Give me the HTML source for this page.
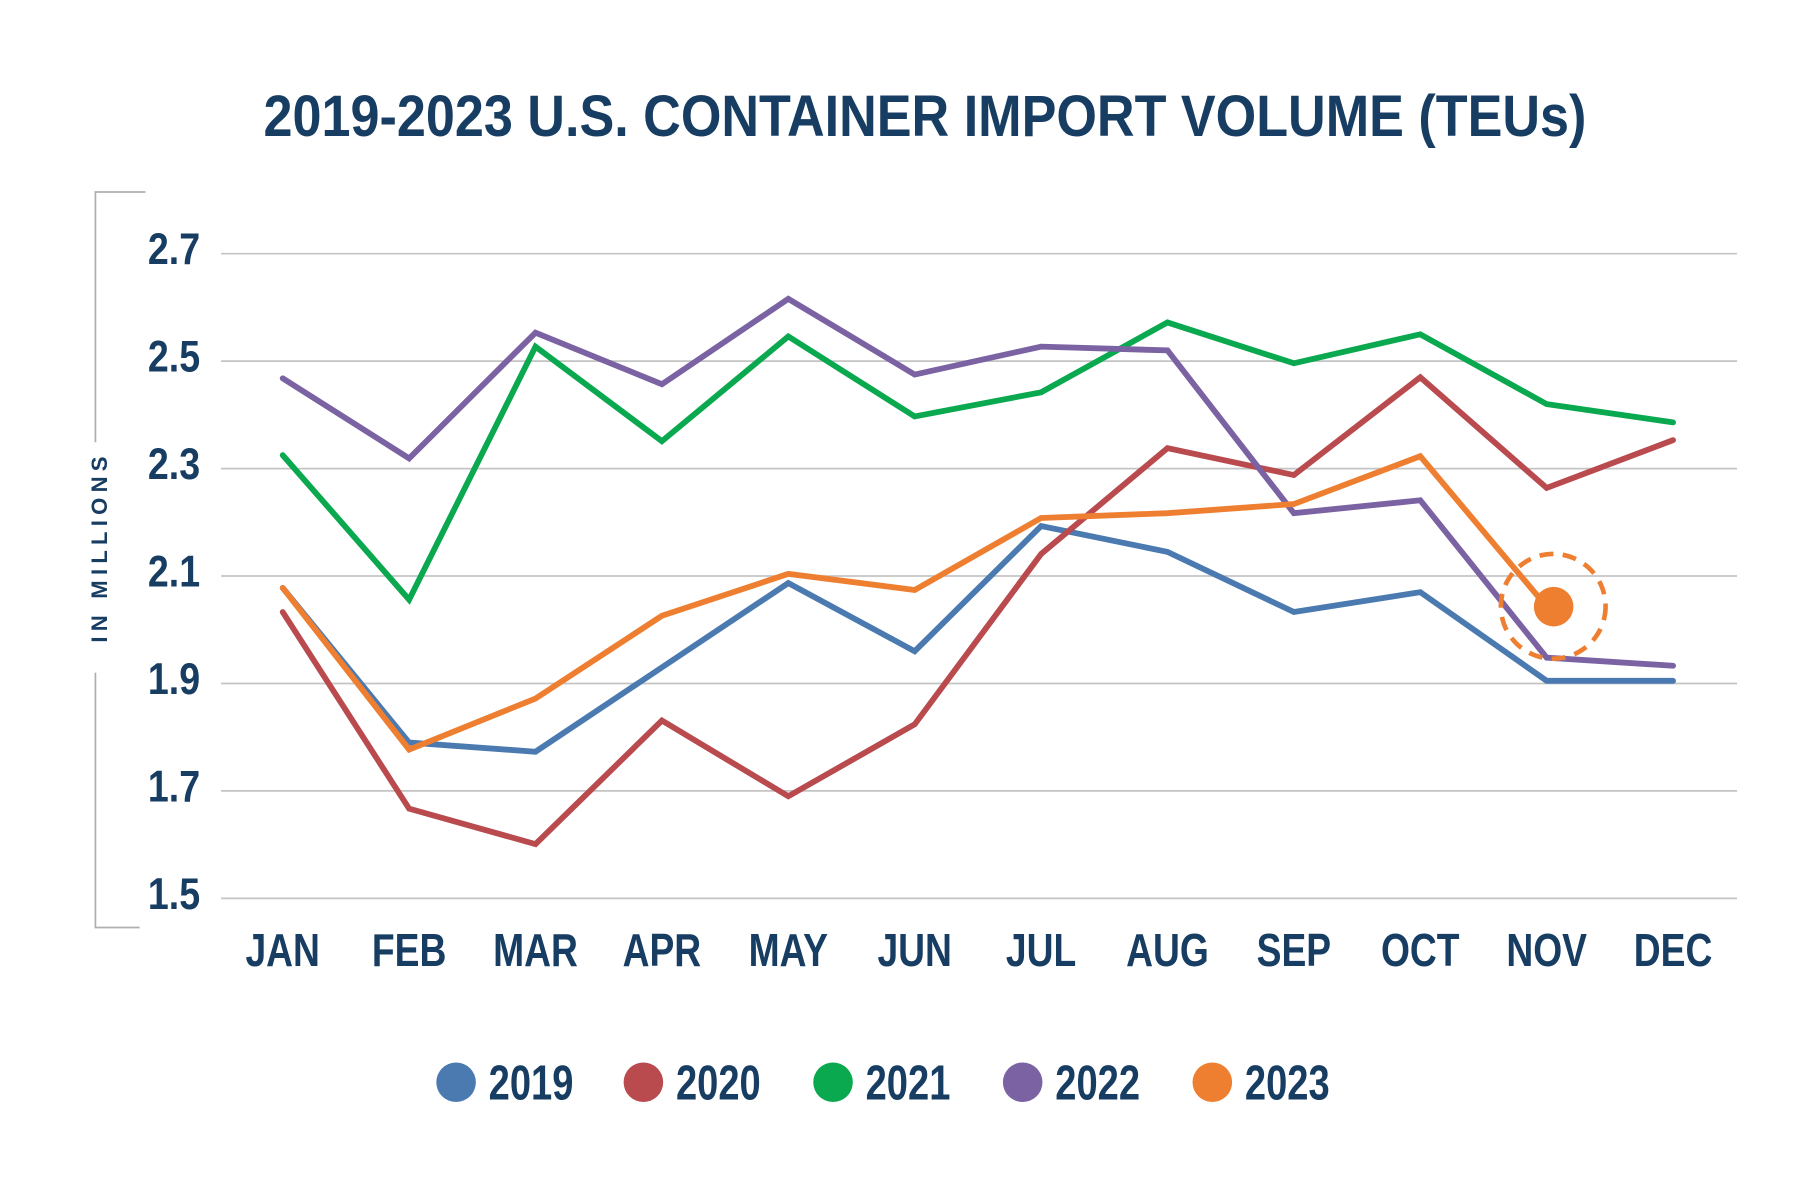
<!DOCTYPE html>
<html><head><meta charset="utf-8"><style>
html,body{margin:0;padding:0;background:#fff;}
svg{display:block;}
text{font-family:"Liberation Sans Narrow","Liberation Sans",sans-serif;font-weight:bold;fill:#173d63;}
</style></head><body>
<svg id="chart" width="1815" height="1180" viewBox="0 0 1560 1014" preserveAspectRatio="none" xmlns="http://www.w3.org/2000/svg">
<text x="795" y="117" text-anchor="middle" font-size="50" textLength="1137" lengthAdjust="spacingAndGlyphs">2019-2023 U.S. CONTAINER IMPORT VOLUME (TEUs)</text>
<g stroke="#b0b0b0" stroke-width="1.5" fill="none">
<polyline points="125,165 82,165 82,380"/>
<polyline points="82,578 82,797 120,797"/>
</g>
<text transform="translate(92,470) rotate(-90)" text-anchor="middle" font-size="19" letter-spacing="4.5" font-family="Liberation Sans, sans-serif">IN MILLIONS</text>
<g id="grid"></g><g id="ylab"></g><g id="xlab"></g><g id="series"></g>
<circle cx="1335" cy="521" r="45" fill="none" stroke="#ee7f31" stroke-width="4" stroke-dasharray="12,8"/>
<g id="legend"></g>
</svg>
<script>
const months=["JAN","FEB","MAR","APR","MAY","JUN","JUL","AUG","SEP","OCT","NOV","DEC"];
const yTicks=[2.7,2.5,2.3,2.1,1.9,1.7,1.5];
const years=["2019","2020","2021","2022","2023"];
const s2019=[2.078,1.79,1.773,1.93,2.087,1.96,2.193,2.145,2.033,2.07,1.905,1.905];
const s2020=[2.033,1.667,1.601,1.831,1.69,1.824,2.141,2.338,2.288,2.47,2.264,2.353];
const s2021=[2.325,2.056,2.527,2.351,2.546,2.397,2.442,2.572,2.496,2.55,2.42,2.386];
const s2022=[2.468,2.319,2.553,2.457,2.616,2.475,2.527,2.52,2.217,2.241,1.948,1.933];
const s2023=[2.078,1.777,1.872,2.026,2.104,2.074,2.208,2.217,2.234,2.323,2.043];
const colors=["#4a7ab0","#b94a4e","#0aa84f","#7a62a3","#ee7f31"];
const allSeries=[s2019,s2020,s2021,s2022,s2023];
const NS="http://www.w3.org/2000/svg";
function y(v){return 218+(2.7-v)*(772-218)/1.2;}
function x(i){return 243+i*(1438-243)/11;}
function mk(t,a,p){const e=document.createElementNS(NS,t);for(const k in a)e.setAttribute(k,a[k]);document.getElementById(p).appendChild(e);return e;}
function narrow(t,f){const w=t.getComputedTextLength();t.setAttribute("textLength",w*f);t.setAttribute("lengthAdjust","spacingAndGlyphs");}
yTicks.forEach(v=>{
 const l=mk("line",{x1:190,x2:1493,y1:y(v),y2:y(v),stroke:"#c4c4c4","stroke-width":1.5},"grid");
 
 
 const t=mk("text",{x:172,y:y(v)+9,"text-anchor":"end","font-size":38},"ylab");
 t.textContent=v.toFixed(1);
 
 
 narrow(t,0.85);
});
months.forEach((m,i)=>{
 const t=mk("text",{x:x(i),y:830,"text-anchor":"middle","font-size":40},"xlab");
 t.textContent=m;
 
 
 narrow(t,0.8);
});
allSeries.forEach((s,k)=>{
 const pts=s.map((v,i)=>x(i)+","+y(v)).join(" ");
 const p=mk("polyline",{points:pts,fill:"none",stroke:colors[k],"stroke-width":5,"stroke-linejoin":"miter","stroke-linecap":"round"},"series");
 
 
});
const li=s2023.length-1;
const dot=mk("circle",{cx:x(li)+6,cy:y(s2023[li]),r:17,fill:"#ee7f31"},"series");


const lx=[392,553,716,879,1042];
years.forEach((yr,k)=>{
 const c=mk("circle",{cx:lx[k],cy:930,r:17,fill:colors[k]},"legend");
 
 
 const t=mk("text",{x:lx[k]+28,y:945,"font-size":42},"legend");
 t.textContent=yr;
 
 
 narrow(t,0.78);
});
</script>
</body></html>
